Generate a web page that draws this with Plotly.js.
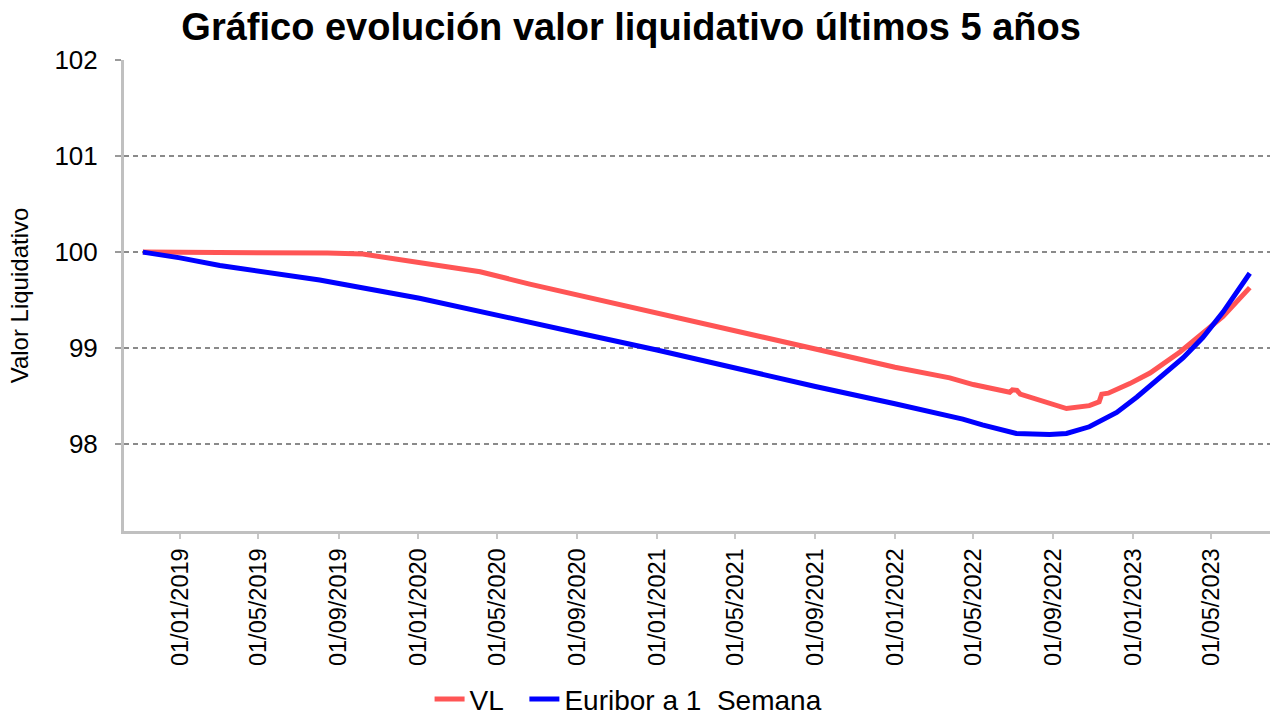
<!DOCTYPE html>
<html>
<head>
<meta charset="utf-8">
<script src="https://cdn.plot.ly/plotly-3.0.1.min.js"></script>
<style>html,body{margin:0;padding:0;background:#fff;}#chart{width:1275px;height:715px;}</style>
</head>
<body>
<div id="chart"></div>
<script>
const vlDates = ['2018-11-05','2019-01-01','2019-05-01','2019-08-15','2019-10-08','2019-12-04','2020-01-01','2020-04-05','2020-06-20','2020-09-01','2021-01-01','2021-05-01','2021-09-01','2022-01-01','2022-03-26','2022-05-01','2022-06-26','2022-06-30','2022-07-07','2022-07-12','2022-08-26','2022-09-21','2022-10-26','2022-11-10','2022-11-14','2022-11-24','2022-12-27','2023-01-27','2023-03-14','2023-04-18','2023-05-19','2023-06-29'];
const vlValues = [100.00,100.00,100.00,99.99,99.98,99.92,99.885,99.795,99.667,99.556,99.37,99.18,98.99,98.80,98.69,98.62,98.54,98.565,98.56,98.52,98.43,98.37,98.40,98.44,98.52,98.53,98.63,98.74,98.96,99.16,99.33,99.63];

const euriborDates = ['2018-11-05','2019-01-01','2019-03-03','2019-08-03','2020-01-03','2020-07-01','2020-09-01','2021-01-01','2021-05-01','2021-09-01','2022-01-01','2022-04-15','2022-05-15','2022-07-06','2022-08-26','2022-09-21','2022-10-26','2022-12-07','2023-01-07','2023-02-07','2023-03-19','2023-04-18','2023-05-19','2023-06-29'];
const euriborValues = [100.00,99.94,99.86,99.71,99.52,99.26,99.16,98.98,98.79,98.60,98.42,98.26,98.20,98.11,98.10,98.11,98.18,98.33,98.49,98.67,98.90,99.11,99.375,99.78];

const seriesNames = ['VL\u00a0\u00a0','Euribor a 1\u00a0\u00a0Semana'];
const titleText = 'Gráfico evolución valor liquidativo últimos 5 años';
const yTitle = 'Valor Liquidativo';

const traces = [
  {x: vlDates, y: vlValues, name: seriesNames[0], mode: 'lines', line: {color: '#ff5555', width: 5}},
  {x: euriborDates, y: euriborValues, name: seriesNames[1], mode: 'lines', line: {color: '#0000ff', width: 5}}
];

const layout = {
  width: 1275, height: 715,
  paper_bgcolor: '#ffffff', plot_bgcolor: '#ffffff',
  margin: {l: 124, r: 5, t: 60, b: 184},
  title: {text: '<b>' + titleText + '</b>', font: {family: 'Liberation Sans, Arial, sans-serif', size: 38, color: '#000'}, x: 0.495, xref: 'container', xanchor: 'center', y: 0.963, yref: 'container', yanchor: 'middle'},
  font: {family: 'Liberation Sans, Arial, sans-serif', color: '#000'},
  showlegend: true,
  legend: {orientation: 'h', x: 0.493, xref: 'container', xanchor: 'center', y: 0.022, yref: 'container', yanchor: 'middle', font: {size: 28, color: '#000'}, itemwidth: 30, tracegroupgap: 0},
  xaxis: {
    type: 'date',
    range: ['2018-10-07', '2023-07-30'],
    tick0: '2019-01-01', dtick: 'M4', tickformat: '%d/%m/%Y',
    tickangle: -90,
    tickfont: {size: 23.5, color: '#000'},
    showgrid: false, zeroline: false,
    showline: true, linecolor: '#c0c0c0', linewidth: 3,
    ticks: 'outside', ticklen: 5, tickwidth: 2, tickcolor: '#c8c8c8'
  },
  yaxis: {
    range: [97.094, 102.002],
    tickvals: [98, 99, 100, 101, 102],
    tickfont: {size: 26, color: '#000'},
    title: {text: yTitle, font: {size: 24, color: '#000'}, standoff: 20},
    showgrid: true, gridcolor: '#8a8a8a', gridwidth: 1.5, griddash: '5px,4px',
    zeroline: false,
    showline: true, linecolor: '#c0c0c0', linewidth: 3,
    ticks: 'outside', ticklen: 6, tickwidth: 1.5, tickcolor: '#9a9a9a',
    ticklabelstandoff: 12
  }
};

Plotly.newPlot('chart', traces, layout, {displayModeBar: false, staticPlot: true});
</script>
</body>
</html>
